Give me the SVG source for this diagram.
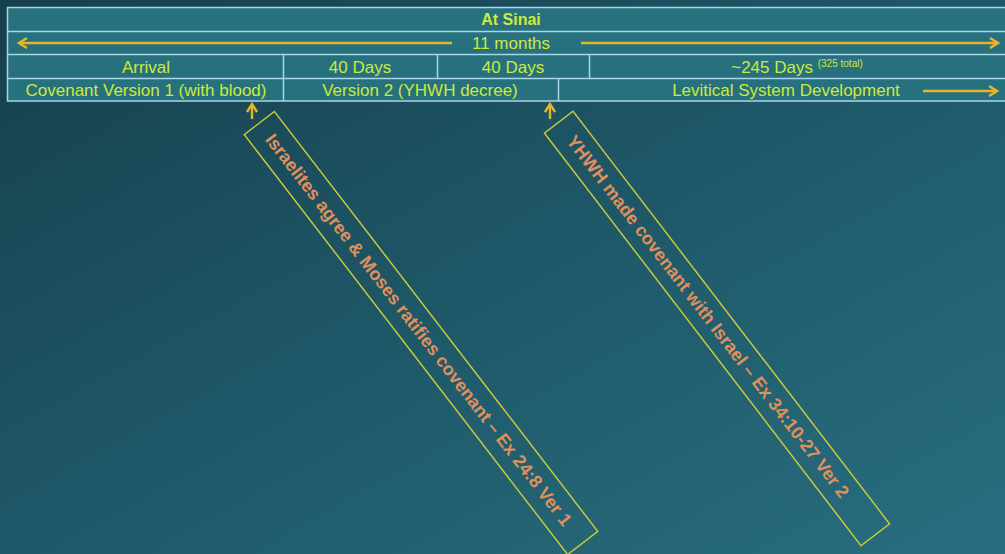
<svg xmlns="http://www.w3.org/2000/svg" width="1005" height="554" viewBox="0 0 1005 554">
<defs>
<linearGradient id="bg" x1="0" y1="0" x2="1" y2="1">
<stop offset="0" stop-color="#173f4d"/>
<stop offset="0.5" stop-color="#1e5868"/>
<stop offset="1" stop-color="#286e80"/>
</linearGradient>
<marker id="chev" viewBox="0 0 12 12" refX="10" refY="6" markerWidth="12" markerHeight="12" markerUnits="userSpaceOnUse" orient="auto">
<path d="M2,1 L10,6 L2,11" fill="none" stroke="#e6b62a" stroke-width="2.4"/>
</marker>
<style>
.cell{fill:#27717f;stroke:#a9d6e6;stroke-width:1.5}
.grid{stroke:#a9d6e6;stroke-width:1.5;fill:none}
.t{font-family:"Liberation Sans",Arial,sans-serif;font-size:17px;fill:#cde93c;text-anchor:middle}
.tb{font-weight:bold;font-size:16px}
.arr{stroke:#e6b62a;stroke-width:2.4;fill:none}
.note{fill:none;stroke:#c9c83a;stroke-width:1.5}
.nt{font-family:"Liberation Sans",Arial,sans-serif;font-size:18px;font-weight:bold;fill:#e0905a;text-anchor:middle}
</style>
</defs>
<rect width="1005" height="554" fill="url(#bg)"/>
<g id="timeline">
<rect class="cell" x="7.5" y="7.5" width="1000" height="93.5"/>
<line class="grid" x1="7.5" y1="31.5" x2="1005" y2="31.5"/>
<line class="grid" x1="7.5" y1="54.5" x2="1005" y2="54.5"/>
<line class="grid" x1="7.5" y1="78.5" x2="1005" y2="78.5"/>
<line class="grid" x1="283.5" y1="54.5" x2="283.5" y2="101"/>
<line class="grid" x1="437.5" y1="54.5" x2="437.5" y2="78.5"/>
<line class="grid" x1="589.5" y1="54.5" x2="589.5" y2="78.5"/>
<line class="grid" x1="558.5" y1="78.5" x2="558.5" y2="101"/>
</g>
<g id="at-sinai"><text class="t tb" x="511" y="25">At Sinai</text></g>
<g id="months"><text class="t" x="511" y="49">11 months</text></g>
<g id="arrival"><text class="t" x="146" y="73">Arrival</text></g>
<g id="days40a"><text class="t" x="360" y="73">40 Days</text></g>
<g id="days40b"><text class="t" x="513" y="73">40 Days</text></g>
<g id="days245"><text class="t" x="797" y="73">~245  Days <tspan font-size="10" dy="-6">(325 total)</tspan></text></g>
<g id="cov1"><text class="t" x="146" y="96">Covenant Version 1 (with blood)</text></g>
<g id="ver2"><text class="t" x="420" y="96">Version 2 (YHWH decree)</text></g>
<g id="levitical"><text class="t" x="786" y="96">Levitical System Development</text></g>
<g id="connectors">
<line class="arr" x1="452" y1="43" x2="19" y2="43" marker-end="url(#chev)"/>
<line class="arr" x1="581" y1="43" x2="998" y2="43" marker-end="url(#chev)"/>
<line class="arr" x1="923" y1="91" x2="997" y2="91" marker-end="url(#chev)"/>
<line class="arr" x1="252" y1="119" x2="252" y2="104" marker-end="url(#chev)"/>
<line class="arr" x1="550" y1="119" x2="550" y2="104" marker-end="url(#chev)"/>
</g>
<g id="note1" transform="translate(421,333) rotate(52.4)">
<rect class="note" x="-265" y="-19" width="530" height="38"/>
<text class="nt" x="-4" y="6">Israelites agree &amp; Moses ratifies covenant – Ex 24:8 Ver 1</text>
</g>
<g id="note2" transform="translate(717,328.5) rotate(52.5)">
<rect class="note" x="-260" y="-18" width="520" height="36"/>
<text class="nt" x="-15" y="6">YHWH made covenant with Israel – Ex 34:10-27 Ver 2</text>
</g>
</svg>
